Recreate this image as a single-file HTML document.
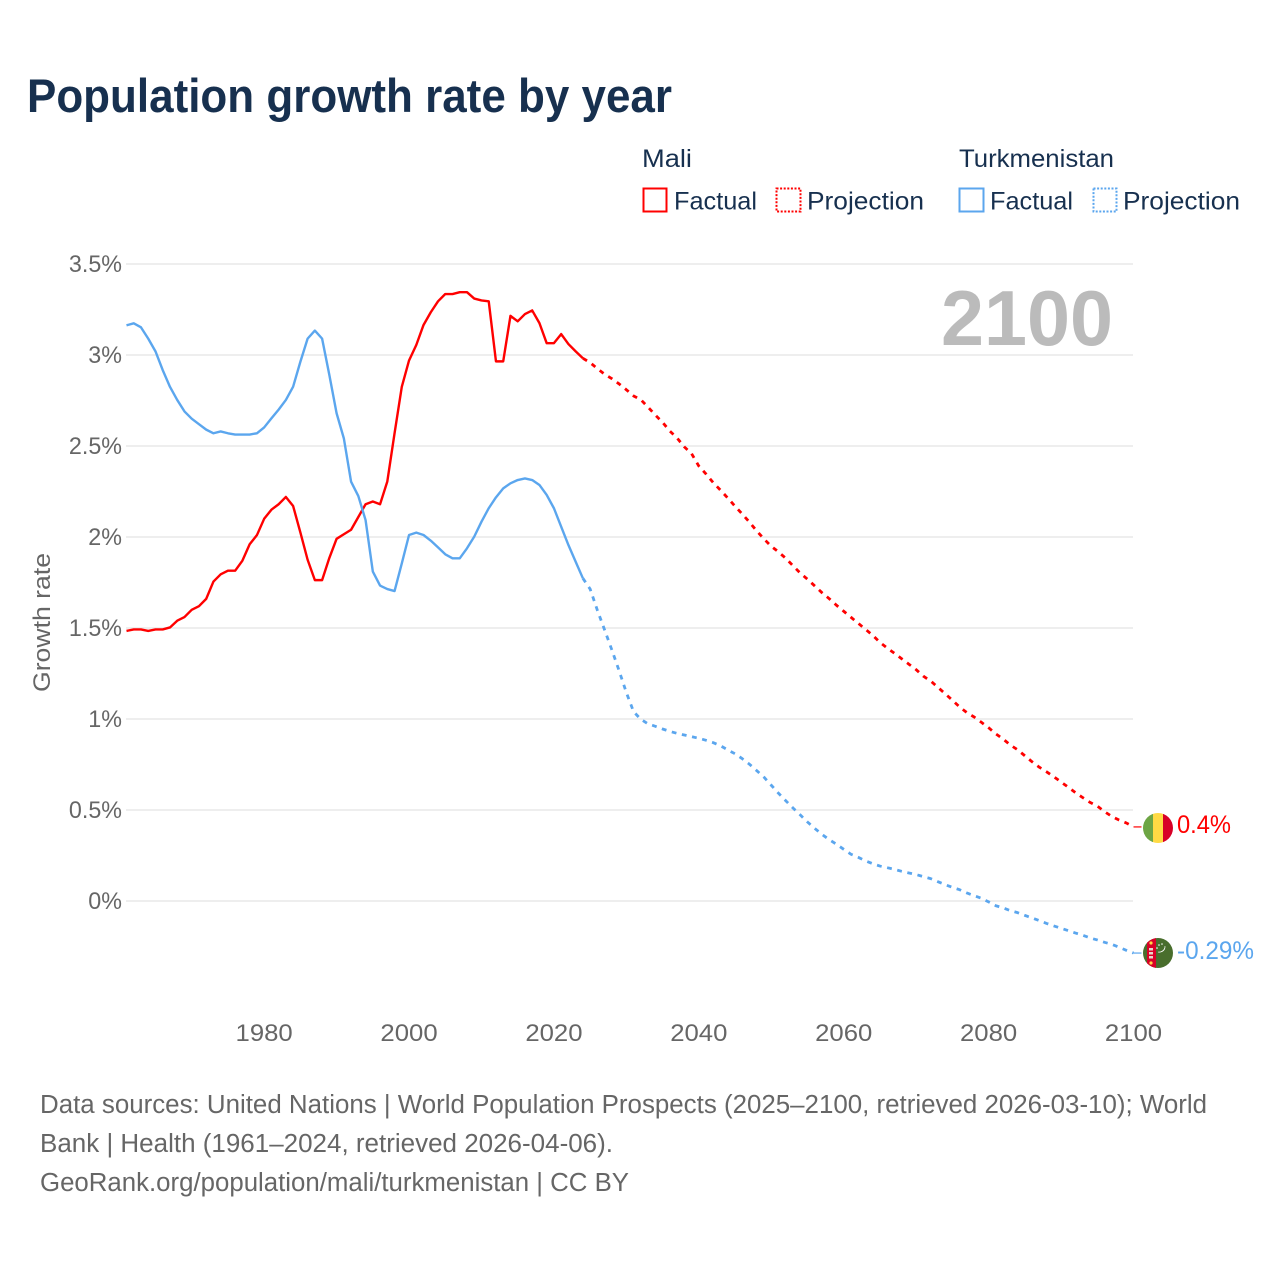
<!DOCTYPE html>
<html lang="en">
<head>
<meta charset="utf-8">
<title>Population growth rate by year</title>
<style>
html,body{margin:0;padding:0;background:#fff;width:1280px;height:1280px;overflow:hidden}
svg{display:block}
text{font-family:"Liberation Sans",sans-serif}
.legend{font-size:25px;fill:#17304f}
.tick{font-size:24.5px;fill:#666}
.foot{font-size:25.5px;fill:#666}
</style>
</head>
<body>
<svg id="chart" width="1280" height="1280" viewBox="0 0 1280 1280" xmlns="http://www.w3.org/2000/svg">
  <defs>
    <clipPath id="flag-clip-ml"><circle cx="1158" cy="828" r="15"/></clipPath>
    <clipPath id="flag-clip-tm"><circle cx="1158" cy="953" r="15"/></clipPath>
  </defs>
  <rect width="1280" height="1280" fill="#fff"/>
  <text x="27" y="112" font-size="47" font-weight="700" fill="#17304f" textLength="645" lengthAdjust="spacingAndGlyphs">Population growth rate by year</text>

  <g>
    <text class="legend" x="642" y="167" textLength="50" lengthAdjust="spacingAndGlyphs">Mali</text>
    <text class="legend" x="959" y="167" textLength="155" lengthAdjust="spacingAndGlyphs">Turkmenistan</text>
    <g>
      <rect x="643.5" y="188.5" width="23" height="23" fill="none" stroke="#ff0000" stroke-width="2"/>
      <text class="legend" x="674" y="209.5" textLength="83" lengthAdjust="spacingAndGlyphs">Factual</text>
    </g>
    <g>
      <rect x="776.5" y="188.5" width="24" height="23" fill="none" stroke="#ff0000" stroke-width="2" stroke-dasharray="2 1.6"/>
      <text class="legend" x="807" y="209.5" textLength="117" lengthAdjust="spacingAndGlyphs">Projection</text>
    </g>
    <g>
      <rect x="959.5" y="188.5" width="24" height="23" fill="none" stroke="#5ba6ee" stroke-width="2"/>
      <text class="legend" x="990" y="209.5" textLength="83" lengthAdjust="spacingAndGlyphs">Factual</text>
    </g>
    <g>
      <rect x="1093.5" y="188.5" width="23" height="23" fill="none" stroke="#5ba6ee" stroke-width="2" stroke-dasharray="2 1.6"/>
      <text class="legend" x="1123" y="209.5" textLength="117" lengthAdjust="spacingAndGlyphs">Projection</text>
    </g>
  </g>

  <g id="grid"></g>
  <g id="y-ticks"></g>
  <g id="x-ticks"></g>
  <text class="tick" transform="translate(50,692) rotate(-90)" x="0" y="0" textLength="139" lengthAdjust="spacingAndGlyphs">Growth rate</text>

  <text x="1113" y="345" text-anchor="end" font-size="78" font-weight="700" fill="#bbbbbb" textLength="172" lengthAdjust="spacingAndGlyphs">2100</text>

  <g id="series"></g>

  <g clip-path="url(#flag-clip-ml)">
    <rect x="1143" y="813" width="10" height="30" fill="#6da544"/>
    <rect x="1153" y="813" width="10" height="30" fill="#ffda44"/>
    <rect x="1163" y="813" width="10" height="30" fill="#d80027"/>
  </g>
  <g clip-path="url(#flag-clip-tm)">
    <rect x="1143" y="938" width="30" height="30" fill="#496e2d"/>
    <rect x="1147" y="938" width="9" height="30" fill="#d80027"/>
    <circle cx="1151" cy="943" r="1.6" fill="#ffda44"/>
    <circle cx="1151" cy="963" r="1.6" fill="#ffda44"/>
    <rect x="1149" y="948" width="4" height="2.5" fill="#e8d8c8"/>
    <rect x="1149" y="952" width="4" height="2.5" fill="#e8d8c8"/>
    <rect x="1149" y="956" width="4" height="2.5" fill="#e8d8c8"/>
    <path d="M1165 946a5.5 5.5 0 0 1-7 6 6 6 0 0 0 7-6z" fill="#fff" stroke="#fff" stroke-width=".6"/>
    <circle cx="1159" cy="945" r=".8" fill="#fff"/>
    <circle cx="1157" cy="948" r=".8" fill="#fff"/>
    <circle cx="1162" cy="944" r=".8" fill="#fff"/>
  </g>
  <text x="1177" y="833" font-size="25" fill="#ff0000" textLength="54" lengthAdjust="spacingAndGlyphs">0.4%</text>
  <text x="1177" y="959" font-size="25" fill="#5ba6ee" textLength="77" lengthAdjust="spacingAndGlyphs">-0.29%</text>

  <g>
    <text class="foot" x="40" y="1113" textLength="1167" lengthAdjust="spacingAndGlyphs">Data sources: United Nations | World Population Prospects (2025–2100, retrieved 2026-03-10); World</text>
    <text class="foot" x="40" y="1152" textLength="573" lengthAdjust="spacingAndGlyphs">Bank | Health (1961–2024, retrieved 2026-04-06).</text>
    <text class="foot" x="40" y="1191" textLength="589" lengthAdjust="spacingAndGlyphs">GeoRank.org/population/mali/turkmenistan | CC BY</text>
  </g>
</svg>
<script>
const yTickValues = [0, 0.5, 1, 1.5, 2, 2.5, 3, 3.5];
const xTickYears = [1980, 2000, 2020, 2040, 2060, 2080, 2100];
const factualStartYear = 1961;
const projectionStartYear = 2024;

const maliFactual = [1.484,1.492,1.492,1.484,1.492,1.492,1.503,1.54,1.56,1.60,1.62,1.66,1.755,1.795,1.815,1.815,1.87,1.96,2.01,2.10,2.15,2.18,2.22,2.17,2.025,1.875,1.763,1.763,1.885,1.99,2.015,2.04,2.11,2.18,2.195,2.18,2.305,2.57,2.825,2.97,3.055,3.165,3.235,3.295,3.335,3.335,3.345,3.345,3.31,3.30,3.295,2.965,2.965,3.215,3.185,3.225,3.245,3.175,3.065,3.065,3.115,3.06,3.02,2.982];

const maliProjection = [2.982,2.958,2.925,2.894,2.870,2.841,2.809,2.775,2.754,2.713,2.670,2.630,2.582,2.544,2.495,2.458,2.390,2.346,2.298,2.257,2.214,2.169,2.126,2.081,2.033,1.989,1.949,1.918,1.883,1.842,1.802,1.768,1.731,1.694,1.661,1.625,1.592,1.559,1.526,1.493,1.460,1.421,1.390,1.361,1.331,1.301,1.271,1.235,1.209,1.174,1.139,1.103,1.066,1.035,1.011,0.982,0.952,0.918,0.890,0.857,0.831,0.798,0.765,0.735,0.710,0.683,0.654,0.625,0.595,0.568,0.542,0.522,0.491,0.465,0.445,0.429,0.407];

const turkmenistanFactual = [3.163,3.174,3.152,3.09,3.02,2.917,2.825,2.753,2.69,2.65,2.62,2.59,2.57,2.58,2.57,2.563,2.563,2.563,2.57,2.602,2.652,2.70,2.753,2.826,2.963,3.09,3.134,3.09,2.89,2.68,2.542,2.304,2.225,2.093,1.81,1.733,1.714,1.703,1.855,2.011,2.024,2.011,1.98,1.943,1.905,1.883,1.883,1.938,2.002,2.084,2.158,2.218,2.267,2.295,2.313,2.322,2.313,2.286,2.231,2.158,2.057,1.956,1.864,1.773];

const turkmenistanProjection = [1.773,1.714,1.597,1.489,1.379,1.265,1.145,1.040,0.998,0.973,0.960,0.945,0.932,0.921,0.912,0.903,0.894,0.883,0.870,0.853,0.830,0.809,0.782,0.751,0.716,0.680,0.636,0.592,0.551,0.511,0.473,0.434,0.399,0.366,0.337,0.312,0.284,0.257,0.240,0.221,0.205,0.192,0.183,0.174,0.163,0.154,0.145,0.134,0.123,0.106,0.090,0.075,0.062,0.044,0.029,0.015,-0.005,-0.026,-0.038,-0.053,-0.064,-0.079,-0.093,-0.108,-0.123,-0.137,-0.150,-0.163,-0.176,-0.188,-0.203,-0.214,-0.227,-0.238,-0.254,-0.271,-0.286];

const NS = 'http://www.w3.org/2000/svg';
function xScale(year){ return 126.5 + (year - 1961) * 7.2446; }
function yScale(v){ return 901 - v * 182; }
function make(tag, attrs, parent){
  const el = document.createElementNS(NS, tag);
  for (const k in attrs) el.setAttribute(k, attrs[k]);
  parent.appendChild(el);
  return el;
}
const grid = document.getElementById('grid');
const yTicks = document.getElementById('y-ticks');
const xTicks = document.getElementById('x-ticks');
const seriesGroup = document.getElementById('series');

yTickValues.forEach(function(v){
  const line = make('line', {x1:126, x2:1133, y1:yScale(v), y2:yScale(v), stroke:'#eeeeee', 'stroke-width':2}, grid);
  
  
  const t = make('text', {x:122, y:yScale(v)+8, 'text-anchor':'end', class:'tick'}, yTicks);
  t.textContent = v + '%';
  
  
  t.setAttribute('textLength', (t.getComputedTextLength() * 0.95).toFixed(1));
  t.setAttribute('lengthAdjust', 'spacingAndGlyphs');
});
xTickYears.forEach(function(year){
  const t = make('text', {x:xScale(year), y:1041, 'text-anchor':'middle', class:'tick'}, xTicks);
  t.textContent = String(year);
  
  
  t.setAttribute('textLength', (t.getComputedTextLength() * 1.05).toFixed(1));
  t.setAttribute('lengthAdjust', 'spacingAndGlyphs');
});

function drawLine(values, startYear, color, dashed){
  const pts = values.map(function(v, i){
    return xScale(startYear + i).toFixed(2) + ',' + yScale(v).toFixed(2);
  }).join(' ');
  const attrs = {points:pts, fill:'none', stroke:color, 'stroke-width':dashed ? 2.8 : 2.4, 'stroke-linejoin':'round'};
  if (dashed) attrs['stroke-dasharray'] = '4.8 5.6';
  return make('polyline', attrs, seriesGroup);
}
const lineMaliFactual = drawLine(maliFactual, factualStartYear, '#ff0000', false);


const lineMaliProjection = drawLine(maliProjection, projectionStartYear, '#ff0000', true);


const lineTmFactual = drawLine(turkmenistanFactual, factualStartYear, '#5ba6ee', false);


const lineTmProjection = drawLine(turkmenistanProjection, projectionStartYear, '#5ba6ee', true);



const lastMali = maliProjection[maliProjection.length - 1];
const leaderMali = make('line', {x1:xScale(2100), x2:xScale(2100)+8, y1:yScale(lastMali), y2:yScale(lastMali), stroke:'#ff0000', 'stroke-width':1.2}, seriesGroup);


const lastTm = turkmenistanProjection[turkmenistanProjection.length - 1];
const leaderTm = make('line', {x1:xScale(2100), x2:xScale(2100)+8, y1:yScale(lastTm), y2:yScale(lastTm), stroke:'#5ba6ee', 'stroke-width':1.2}, seriesGroup);


</script>
</body>
</html>
